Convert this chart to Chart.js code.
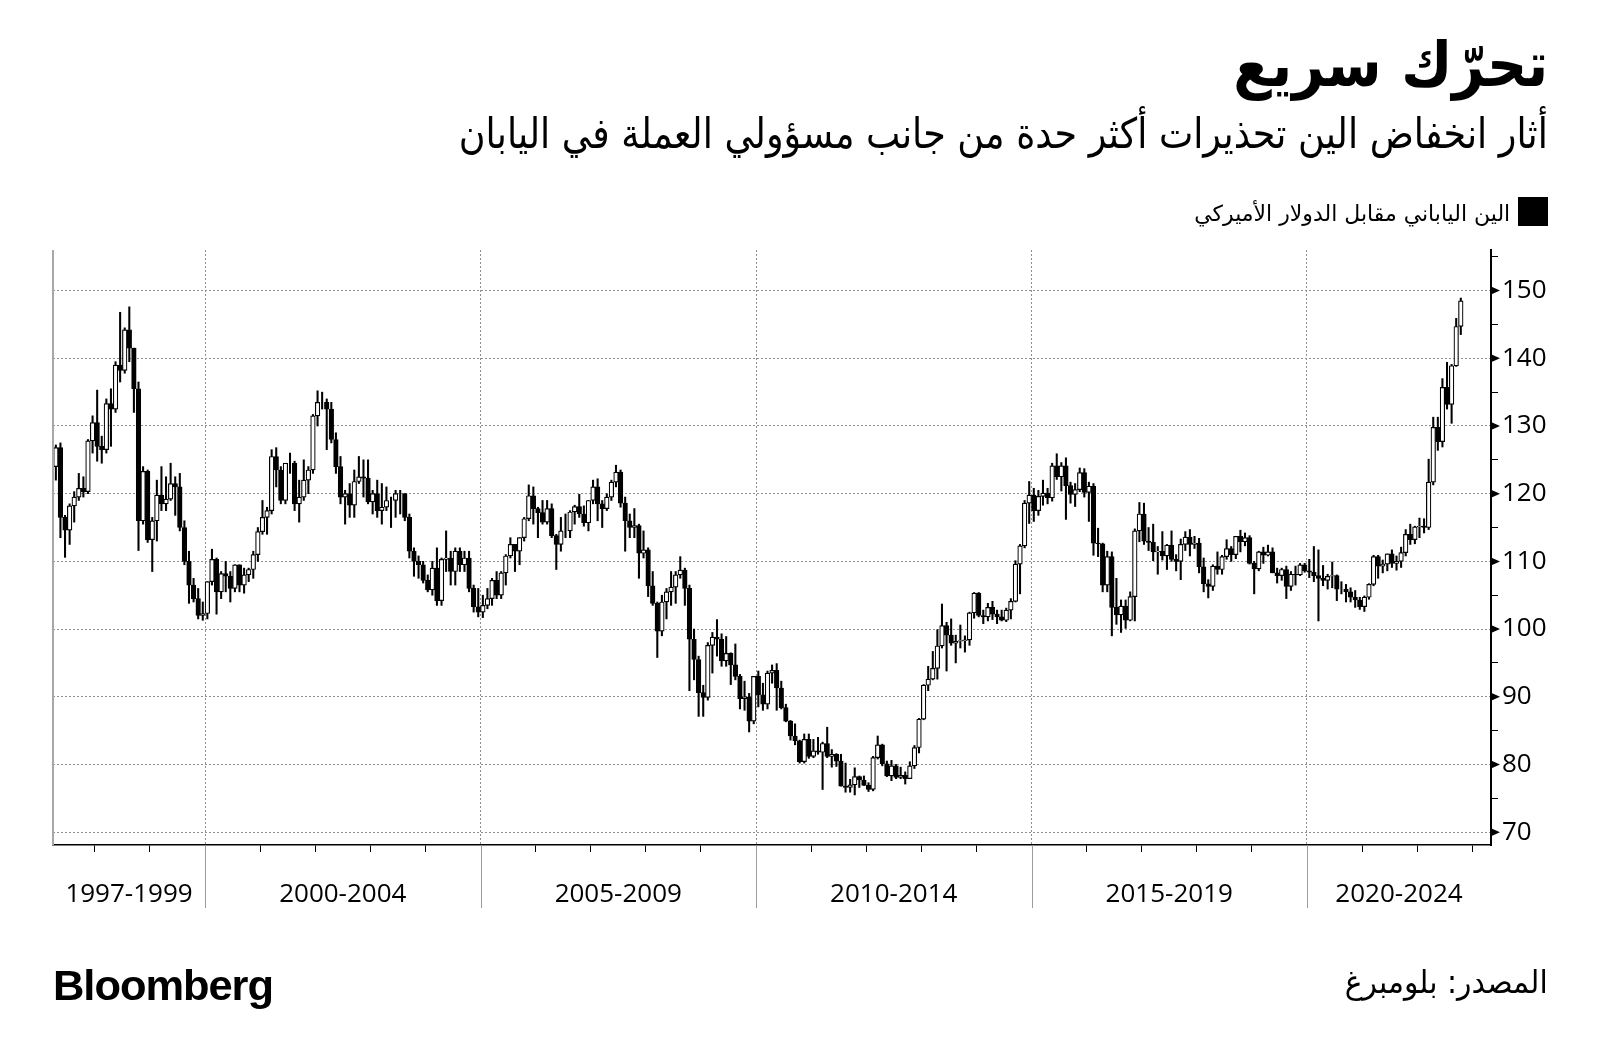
<!DOCTYPE html>
<html lang="ar">
<head>
<meta charset="UTF-8">
<title>تحرّك سريع</title>
<script src="https://cdn.jsdelivr.net/npm/chart.js"></script>
<style>
    html, body { margin: 0; padding: 0; background: #fff; }
    body { width: 1600px; height: 1062px; position: relative; overflow: hidden; }
    #chart { position: absolute; left: 0; top: 0; }
    .txt { position: absolute; white-space: nowrap; line-height: 1; color: #000; }
    .rtl { direction: rtl; font-family: 'DejaVu Sans', sans-serif; transform-origin: right top; }
    #title { right: 52px; top: 34px; font-size: 62px; font-weight: bold; }
    #subtitle { right: 52px; top: 113px; font-size: 42px; }
    #legendText { right: 90px; top: 203px; font-size: 22px; }
    #legendBox { position: absolute; left: 1518px; top: 197px; width: 30px; height: 29px; background: #000; }
    #brand { left: 53px; top: 962px; font: bold 42px 'Liberation Sans', Arial, sans-serif; letter-spacing: -1px; transform-origin: left top; }
    #source { right: 52px; top: 966px; font-size: 32px; }
</style>
</head>
<body>
<canvas id="chart" width="1600" height="1062"></canvas>

<div id="title" class="txt rtl" data-w="315">تحرّك سريع</div>
<div id="subtitle" class="txt rtl" data-w="1089">أثار انخفاض الين تحذيرات أكثر حدة من جانب مسؤولي العملة في اليابان</div>
<div id="legendBox"></div>
<div id="legendText" class="txt rtl" data-w="316">الين الياباني مقابل الدولار الأميركي</div>
<div id="brand" class="txt" data-w="220">Bloomberg</div>
<div id="source" class="txt rtl" data-w="203">المصدر: بلومبرغ</div>

<script>
    // monthly USD/JPY candles, Apr 1997 .. Oct 2022 (one line per year)
    const firstYear = 1997, firstMonth = 4;

    const open = [
        124.0, 126.8, 116.5, 114.6, 118.2, 119.5, 120.8, 120.3, 127.8,
        130.5, 127.0, 126.5, 133.3, 132.5, 139.0, 138.2, 144.2, 141.5, 135.5, 116.0, 123.3,
        113.2, 116.0, 119.8, 118.5, 119.2, 121.5, 121.0, 115.0, 110.0, 106.5, 104.5, 102.0,
        102.3, 107.0, 110.3, 105.5, 108.2, 107.8, 106.0, 109.5, 106.5, 108.0, 108.8, 111.0,
        114.4, 116.5, 117.5, 125.5, 123.5, 119.0, 124.5, 124.5, 118.5, 119.5, 122.0, 123.5,
        131.5, 133.5, 133.5, 132.5, 128.0, 124.0, 119.5, 120.0, 118.3, 121.8, 122.5, 122.3,
        118.8, 120.0, 117.5, 118.0, 119.0, 119.0, 120.0, 120.0, 116.5, 111.5, 110.0, 109.5,
        107.2, 105.8, 109.0, 104.2, 110.3, 110.5, 108.5, 111.5, 109.5, 110.5, 106.0, 103.3,
        102.5, 103.5, 104.5, 107.2, 105.0, 108.3, 110.8, 112.5, 111.5, 113.5, 116.3, 119.7,
        117.8, 117.2, 115.8, 117.8, 113.8, 112.5, 114.5, 114.5, 117.3, 118.1, 117.0, 115.7,
        119.0, 121.0, 118.5, 117.8, 119.5, 121.7, 123.2, 118.6, 116.0, 115.0, 115.3, 111.2,
        111.7, 106.4, 103.8, 99.7, 104.0, 105.5, 106.2, 108.0, 108.7, 106.0, 98.5, 95.5,
        90.6, 89.9, 97.6, 98.8, 98.5, 95.3, 96.4, 94.7, 93.0, 89.7, 90.0, 86.4,
        93.0, 90.3, 88.9, 93.5, 93.9, 91.3, 88.4, 86.4, 84.2, 83.5, 80.4, 83.7,
        81.2, 82.0, 81.8, 83.1, 81.2, 81.5, 80.5, 76.8, 76.6, 77.0, 78.2, 77.7,
        76.9, 76.3, 81.0, 82.9, 80.1, 78.3, 79.8, 78.1, 78.4, 77.9, 79.8, 82.5,
        86.7, 91.7, 92.6, 94.2, 97.5, 100.5, 99.1, 97.9, 98.2, 98.3, 98.4, 102.4,
        105.3, 102.0, 101.8, 103.2, 102.2, 101.8, 101.3, 102.8, 104.1, 109.6, 112.3, 118.6,
        119.8, 117.5, 119.6, 120.1, 119.4, 124.1, 122.5, 124.1, 121.2, 119.9, 120.6, 123.1,
        120.2, 121.1, 112.7, 112.6, 106.5, 110.7, 103.2, 102.1, 103.4, 101.3, 104.8, 114.5,
        117.0, 113.0, 112.8, 111.4, 111.5, 110.8, 112.4, 110.3, 110.0, 112.5, 113.6, 112.5,
        112.7, 109.2, 106.7, 106.3, 109.3, 108.8, 110.7, 111.9, 111.0, 113.7, 112.9, 113.5,
        109.7, 108.9, 111.4, 110.9, 111.4, 108.3, 107.9, 108.8, 106.3, 108.1, 108.0, 109.5,
        108.6, 108.4, 107.9, 107.5, 107.2, 107.8, 107.9, 105.9, 105.9, 105.5, 104.7, 104.3,
        103.3, 104.7, 106.6, 110.7, 109.3, 109.6, 111.1, 109.7, 110.0, 111.3, 114.0, 113.2,
        115.1, 115.2, 115.0, 121.7, 129.8, 127.7, 135.7, 133.2, 138.9, 144.7
    ];
    const high = [
        127.2, 127.5, 116.8, 118.5, 120.3, 123.0, 122.5, 128.0, 131.5,
        135.3, 128.5, 134.0, 135.5, 139.5, 146.8, 144.5, 147.6, 141.5, 136.5, 124.0, 123.5,
        116.5, 122.0, 124.0, 122.5, 124.5, 122.5, 123.0, 116.0, 111.5, 107.5, 106.0, 104.0,
        107.0, 111.8, 110.5, 108.5, 110.0, 108.5, 109.5, 109.5, 109.0, 109.0, 111.5, 115.0,
        119.0, 118.0, 126.5, 126.8, 124.0, 124.5, 126.0, 124.8, 122.0, 125.0, 124.0, 131.7,
        135.2, 135.0, 134.0, 133.5, 129.0, 125.5, 120.5, 121.5, 123.5, 125.5, 125.0, 125.0,
        120.5, 122.0, 121.5, 121.0, 119.5, 120.5, 120.5, 120.0, 117.0, 112.0, 110.8, 110.0,
        108.0, 110.0, 112.0, 110.5, 114.5, 111.5, 112.0, 112.0, 111.5, 111.5, 106.5, 106.0,
        105.0, 106.0, 107.5, 108.5, 108.5, 111.0, 113.5, 112.5, 113.5, 116.5, 121.3, 121.0,
        118.0, 119.0, 119.0, 118.5, 114.0, 116.5, 117.0, 117.5, 118.3, 119.9, 118.2, 119.0,
        122.0, 122.2, 119.0, 120.0, 122.0, 124.2, 123.5, 119.5, 117.0, 117.8, 115.5, 114.5,
        112.0, 108.5, 104.0, 105.0, 106.0, 108.5, 108.5, 110.7, 109.0, 106.5, 100.0, 96.0,
        91.7, 98.0, 99.5, 101.4, 99.3, 98.9, 96.5, 97.8, 93.3, 92.3, 90.5, 93.0,
        93.8, 92.0, 93.8, 94.7, 94.9, 92.3, 88.9, 86.5, 86.0, 83.6, 84.5, 84.5,
        83.7, 84.0, 83.3, 85.5, 82.2, 81.6, 81.5, 80.2, 77.8, 79.5, 78.3, 78.3,
        77.3, 81.2, 84.2, 83.0, 80.5, 80.6, 80.0, 79.6, 78.9, 80.4, 82.8, 86.8,
        91.8, 94.5, 96.7, 99.9, 103.7, 101.0, 101.5, 99.1, 100.6, 99.0, 102.5, 105.4,
        105.4, 102.8, 103.8, 104.1, 102.8, 102.8, 103.1, 104.5, 110.1, 112.5, 119.0, 121.8,
        120.8, 120.5, 122.0, 120.8, 124.5, 125.9, 124.6, 125.3, 121.7, 121.5, 123.8, 123.7,
        121.7, 121.5, 114.9, 112.7, 111.5, 111.4, 107.5, 104.3, 104.3, 105.5, 114.8, 118.7,
        118.6, 115.0, 115.5, 112.2, 114.4, 112.5, 114.5, 111.0, 113.3, 114.4, 114.7, 113.7,
        113.4, 110.5, 107.3, 109.5, 111.4, 110.9, 113.2, 112.2, 113.7, 114.6, 114.2, 113.8,
        110.0, 111.5, 112.1, 112.4, 112.0, 109.0, 109.0, 109.3, 108.5, 109.3, 109.7, 109.7,
        110.3, 112.2, 111.7, 109.4, 108.1, 109.9, 108.0, 107.0, 106.6, 106.1, 105.7, 104.7,
        104.9, 106.7, 110.9, 110.9, 110.2, 111.1, 111.7, 110.8, 112.1, 114.7, 115.5, 115.2,
        116.4, 116.3, 125.1, 131.3, 131.3, 137.0, 139.4, 139.1, 145.9, 148.9
    ];
    const low = [
        122.0, 113.5, 110.6, 112.5, 115.8, 119.0, 119.5, 120.0, 126.0,
        124.8, 124.5, 126.0, 127.0, 132.0, 136.5, 137.8, 139.5, 132.0, 111.6, 115.5, 112.8,
        108.5, 113.0, 117.5, 117.5, 119.0, 116.8, 114.5, 109.5, 103.8, 104.0, 101.5, 101.3,
        101.5, 106.5, 102.2, 104.5, 105.5, 104.0, 105.5, 105.5, 105.3, 107.0, 107.5, 110.0,
        114.0, 114.0, 117.0, 121.0, 118.5, 118.5, 123.0, 117.5, 115.8, 119.0, 120.0, 123.0,
        130.0, 132.5, 126.5, 127.5, 123.0, 118.5, 115.5, 116.5, 116.5, 121.5, 119.5, 118.5,
        117.0, 116.5, 115.5, 117.5, 115.0, 116.5, 117.0, 116.0, 110.5, 107.8, 107.5, 106.8,
        105.5, 105.0, 103.5, 103.5, 108.5, 106.5, 106.5, 108.5, 108.5, 105.5, 102.5, 101.8,
        101.7, 103.0, 103.5, 104.5, 104.5, 106.5, 110.5, 108.5, 109.5, 113.0, 116.0, 115.5,
        113.5, 115.5, 115.5, 113.5, 108.8, 111.5, 113.5, 113.5, 115.5, 116.5, 115.2, 114.5,
        118.5, 116.0, 115.0, 117.5, 119.0, 121.0, 118.0, 111.5, 113.5, 113.5, 107.5, 110.5,
        104.8, 103.5, 95.8, 99.0, 101.5, 103.5, 103.8, 107.5, 103.5, 90.9, 92.5, 87.1,
        87.1, 89.5, 93.5, 96.0, 94.5, 94.5, 91.8, 92.5, 88.2, 88.0, 84.8, 86.0,
        88.5, 88.0, 88.2, 92.0, 88.0, 88.2, 86.3, 83.6, 82.9, 80.2, 80.2, 80.9,
        81.0, 81.5, 76.3, 81.0, 79.6, 79.7, 76.8, 75.9, 75.9, 75.5, 76.6, 76.9,
        76.0, 76.1, 80.8, 79.8, 78.2, 77.6, 77.9, 77.9, 77.1, 77.9, 79.4, 81.7,
        86.6, 90.9, 92.5, 92.6, 97.2, 93.8, 97.6, 95.0, 97.2, 96.6, 97.6, 101.6,
        101.8, 100.8, 101.2, 101.4, 100.8, 101.2, 101.1, 101.5, 104.0, 105.2, 112.0, 115.6,
        115.9, 116.8, 118.3, 118.5, 118.9, 122.1, 120.4, 116.2, 118.6, 118.1, 120.3, 119.5,
        115.9, 110.9, 110.7, 105.5, 105.5, 99.0, 100.7, 99.5, 100.1, 101.2, 101.2, 112.9,
        112.5, 111.6, 110.1, 108.1, 110.2, 108.8, 110.0, 108.6, 107.3, 111.6, 110.8, 111.9,
        108.3, 105.5, 104.6, 105.7, 108.1, 108.1, 110.3, 110.0, 110.4, 111.4, 112.3, 109.6,
        105.2, 108.6, 109.7, 110.8, 108.3, 106.8, 107.2, 104.5, 105.7, 106.5, 107.9, 108.4,
        107.6, 107.0, 101.2, 106.4, 105.9, 106.1, 104.2, 105.2, 104.0, 104.0, 103.2, 102.9,
        102.6, 104.4, 106.4, 107.5, 108.3, 108.6, 109.1, 108.7, 109.1, 110.8, 112.5, 112.6,
        113.5, 114.2, 114.7, 121.3, 126.4, 126.9, 132.5, 130.4, 138.8, 143.5
    ];
    const close = [
        126.8, 116.5, 114.6, 118.2, 119.5, 120.8, 120.3, 127.8, 130.5,
        127.0, 126.5, 133.3, 132.5, 139.0, 138.2, 144.2, 141.5, 135.5, 116.0, 123.3, 113.2,
        116.0, 119.8, 118.5, 119.2, 121.5, 121.0, 115.0, 110.0, 106.5, 104.5, 102.0, 102.3,
        107.0, 110.3, 105.5, 108.2, 107.8, 106.0, 109.5, 106.5, 108.0, 108.8, 111.0, 114.4,
        116.5, 117.5, 125.5, 123.5, 119.0, 124.5, 124.5, 118.5, 119.5, 122.0, 123.5, 131.5,
        133.5, 133.5, 132.5, 128.0, 124.0, 119.5, 120.0, 118.3, 121.8, 122.5, 122.3, 118.8,
        120.0, 117.5, 118.0, 119.0, 119.0, 120.0, 120.0, 116.5, 111.5, 110.0, 109.5, 107.2,
        105.8, 109.0, 104.2, 110.3, 110.5, 108.5, 111.5, 109.5, 110.5, 106.0, 103.3, 102.5,
        103.5, 104.5, 107.2, 105.0, 108.3, 110.8, 112.5, 111.5, 113.5, 116.3, 119.7, 117.8,
        117.2, 115.8, 117.8, 113.8, 112.5, 114.5, 114.5, 117.3, 118.1, 117.0, 115.7, 119.0,
        121.0, 118.5, 117.8, 119.5, 121.7, 123.2, 118.6, 116.0, 115.0, 115.3, 111.2, 111.7,
        106.4, 103.8, 99.7, 104.0, 105.5, 106.2, 108.0, 108.7, 106.0, 98.5, 95.5, 90.6,
        89.9, 97.6, 98.8, 98.5, 95.3, 96.4, 94.7, 93.0, 89.7, 90.0, 86.4, 93.0,
        90.3, 88.9, 93.5, 93.9, 91.3, 88.4, 86.4, 84.2, 83.5, 80.4, 83.7, 81.2,
        82.0, 81.8, 83.1, 81.2, 81.5, 80.5, 76.8, 76.6, 77.0, 78.2, 77.7, 76.9,
        76.3, 81.0, 82.9, 80.1, 78.3, 79.8, 78.1, 78.4, 77.9, 79.8, 82.5, 86.7,
        91.7, 92.6, 94.2, 97.5, 100.5, 99.1, 97.9, 98.2, 98.3, 98.4, 102.4, 105.3,
        102.0, 101.8, 103.2, 102.2, 101.8, 101.3, 102.8, 104.1, 109.6, 112.3, 118.6, 119.8,
        117.5, 119.6, 120.1, 119.4, 124.1, 122.5, 124.1, 121.2, 119.9, 120.6, 123.1, 120.2,
        121.1, 112.7, 112.6, 106.5, 110.7, 103.2, 102.1, 103.4, 101.3, 104.8, 114.5, 117.0,
        113.0, 112.8, 111.4, 111.5, 110.8, 112.4, 110.3, 110.0, 112.5, 113.6, 112.5, 112.7,
        109.2, 106.7, 106.3, 109.3, 108.8, 110.7, 111.9, 111.0, 113.7, 112.9, 113.5, 109.7,
        108.9, 111.4, 110.9, 111.4, 108.3, 107.9, 108.8, 106.3, 108.1, 108.0, 109.5, 108.6,
        108.4, 107.9, 107.5, 107.2, 107.8, 107.9, 105.9, 105.9, 105.5, 104.7, 104.3, 103.3,
        104.7, 106.6, 110.7, 109.3, 109.6, 111.1, 109.7, 110.0, 111.3, 114.0, 113.2, 115.1,
        115.2, 115.0, 121.7, 129.8, 127.7, 135.7, 133.2, 138.9, 144.7, 148.5
    ];

    // axis labels
    const periodLabels = ['1997-1999', '2000-2004', '2005-2009', '2010-2014', '2015-2019', '2020-2024'];
    const periodCenters = [1998.62, 2002.5, 2007.5, 2012.5, 2017.5, 2021.67];
    const periodStarts = [2000, 2005, 2010, 2015, 2020];
    const yearTicks = [1998, 1999, 2000, 2001, 2002, 2003, 2004, 2005, 2006, 2007, 2008, 2009, 2010,
        2011, 2012, 2013, 2014, 2015, 2016, 2017, 2018, 2019, 2020, 2021, 2022, 2023];
    const yTicks = [70, 75, 80, 85, 90, 95, 100, 105, 110, 115, 120, 125, 130, 135, 140, 145, 150, 155];
    const yLabels = [70, 80, 90, 100, 110, 120, 130, 140, 150];

    // x position of every candle (middle of its month, in decimal years)
    const xs = [];
    for (let i = 0, y = firstYear, m = firstMonth; i < open.length; i++) {
        xs.push(y + (m - 0.5) / 12);
        m++;
        if (m > 12) { m = 1; y++; }
    }

    const bodies = open.map((o, i) => ({ x: xs[i], y: [o, close[i]] }));
    const wicks = low.map((l, i) => ({ x: xs[i], y: [l, high[i]] }));
    const bodyColors = open.map((o, i) => close[i] >= o ? '#ffffff' : '#000000');

    const tickFont = { family: "'Open Sans', 'DejaVu Sans', sans-serif", size: 26 };

    // extra decoration: left frame, period separators, arrow marks on the value axis
    const decor = {
        id: 'decor',
        afterDraw(chart) {
            const { ctx, chartArea: a, scales: { x, y } } = chart;
            ctx.save();
            ctx.strokeStyle = '#a8a8a8';
            ctx.lineWidth = 2;
            ctx.beginPath();
            ctx.moveTo(a.left, a.top);
            ctx.lineTo(a.left, a.bottom);
            ctx.stroke();

            ctx.strokeStyle = '#9c9c9c';
            ctx.lineWidth = 1;
            periodStarts.forEach(v => {
                const px = Math.round(x.getPixelForValue(v)) + 0.5;
                ctx.beginPath();
                ctx.moveTo(px, a.bottom);
                ctx.lineTo(px, a.bottom + 63);
                ctx.stroke();
            });

            ctx.fillStyle = '#000';
            yLabels.forEach(v => {
                const py = y.getPixelForValue(v);
                ctx.beginPath();
                ctx.moveTo(a.right, py - 4);
                ctx.lineTo(a.right + 9, py);
                ctx.lineTo(a.right, py + 4);
                ctx.closePath();
                ctx.fill();
            });
            ctx.restore();
        }
    };

    new Chart(document.getElementById('chart'), {
        type: 'bar',
        data: {
            datasets: [{
                data: bodies,
                backgroundColor: bodyColors,
                borderColor: '#000',
                borderWidth: 1.2,
                borderSkipped: false,
                barThickness: 4.6,
                grouped: false,
                order: 0
            }, {
                data: wicks,
                backgroundColor: '#000',
                borderWidth: 0,
                barThickness: 1.4,
                grouped: false,
                order: 1
            }]
        },
        plugins: [decor],
        options: {
            responsive: false,
            animation: false,
            devicePixelRatio: 1,
            layout: { padding: { left: 53, top: 250, right: 0, bottom: 0 } },
            plugins: { legend: { display: false }, tooltip: { enabled: false } },
            scales: {
                x: {
                    type: 'linear',
                    min: 1997.24,
                    max: 2023.34,
                    offset: false,
                    afterFit: s => { s.height = 1062 - 845; },
                    afterBuildTicks: s => {
                        s.ticks = yearTicks.concat(periodCenters).sort((a, b) => a - b).map(v => ({ value: v }));
                    },
                    grid: {
                        offset: false,
                        color: c => periodStarts.includes(c.tick && c.tick.value) ? '#8f8f8f' : 'rgba(0,0,0,0)',
                        lineWidth: 1,
                        tickLength: 7,
                        tickColor: c => {
                            const v = c.tick && c.tick.value;
                            return Number.isInteger(v) && !periodStarts.includes(v) ? '#000' : 'rgba(0,0,0,0)';
                        }
                    },
                    border: { color: '#000', width: 1.5, dash: [2, 2] },
                    ticks: {
                        autoSkip: false,
                        maxRotation: 0,
                        padding: 27,
                        color: '#000',
                        font: tickFont,
                        callback: v => {
                            const k = periodCenters.indexOf(v);
                            return k >= 0 ? periodLabels[k] : '';
                        }
                    }
                },
                y: {
                    position: 'right',
                    min: 68.1,
                    max: 156,
                    beginAtZero: false,
                    afterFit: s => { s.width = 1600 - 1491; },
                    afterBuildTicks: s => { s.ticks = yTicks.map(v => ({ value: v })); },
                    grid: {
                        color: c => (c.tick && c.tick.value % 10 === 0) ? '#8f8f8f' : 'rgba(0,0,0,0)',
                        lineWidth: 1,
                        tickLength: 7,
                        tickColor: c => (c.tick && c.tick.value % 10 === 0) ? 'rgba(0,0,0,0)' : '#000'
                    },
                    border: { color: '#000', width: 2, dash: [2, 2] },
                    ticks: {
                        padding: 4,
                        color: '#000',
                        font: tickFont,
                        callback: v => yLabels.includes(v) ? String(v) : ''
                    }
                }
            }
        }
    });

    // squeeze the text blocks to the widths used in the original layout
    document.querySelectorAll('[data-w]').forEach(el => {
        const w = el.getBoundingClientRect().width;
        el.style.transform = 'scaleX(' + (el.dataset.w / w) + ')';
    });
</script>
</body>
</html>
